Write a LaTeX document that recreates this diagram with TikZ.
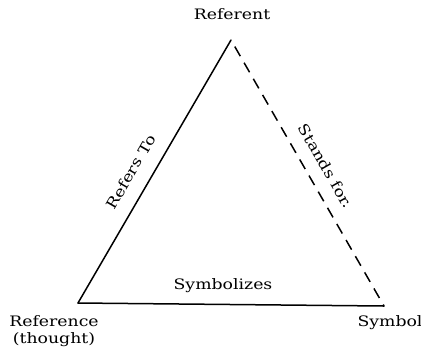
\documentclass[tikz,border=0pt]{standalone}
\usepackage{fontspec}
\setmainfont{DejaVu Serif}[FakeStretch=1.2]
\begin{document}
\begin{tikzpicture}[x=0.5pt,y=-0.5pt,
  lbl/.style={font=\fontsize{7.2pt}{8.5pt}\selectfont, inner sep=0pt, align=center},
  edgeline/.style={line width=0.75pt, line cap=round},
  dashline/.style={line width=0.75pt, dash pattern=on 5.5pt off 3.8pt, dash phase=5.5pt}]
\useasboundingbox (0,0) rectangle (421,354);
\coordinate (top) at (231,40);
\coordinate (bl) at (78,303);
\coordinate (br) at (384,306);
\node[lbl] (referent) at (232,14) {Referent};
\node[lbl] (reference) at (54,331) {Reference\\(thought)};
\node[lbl] (symbol) at (390,323) {Symbol};
\draw[edgeline] (bl) -- (top);
\draw[dashline] (top) -- (br);
\draw[edgeline] (bl) -- (br);
\node[lbl, rotate=60] (refersto) at (131,172) {Refers To};
\node[lbl, rotate=-60] (standsfor) at (326,166) {Stands for.};
\node[lbl] (symbolizes) at (223,286) {Symbolizes};
\end{tikzpicture}
\end{document}
